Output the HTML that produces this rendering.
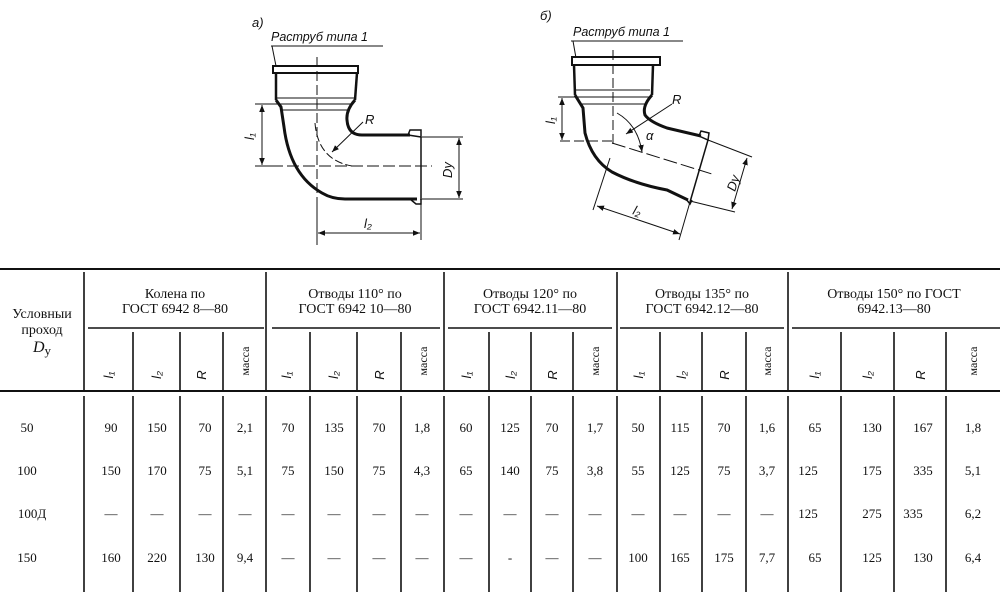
<!DOCTYPE html>
<html><head><meta charset="utf-8"><style>
html,body{margin:0;padding:0;background:#fff;}
svg{display:block;}
.t{font-family:"Liberation Serif",serif;font-size:13px;fill:#111;}
.h{font-family:"Liberation Serif",serif;font-size:14px;fill:#111;}
.i{font-family:"Liberation Sans",sans-serif;font-style:italic;font-size:13px;fill:#111;}
</style></head><body>
<svg width="1000" height="596" viewBox="0 0 1000 596" xmlns="http://www.w3.org/2000/svg">
<defs><marker id="a" viewBox="0 0 10 10" refX="10" refY="5" markerWidth="7" markerHeight="7" orient="auto-start-reverse"><path d="M0,1 L10,5 L0,9 z" fill="#111"/></marker></defs>
<g fill="none" stroke="#111" stroke-width="1">
<!-- ===== Drawing a ===== -->
<text class="i" x="252" y="27" stroke="none">а)</text>
<text class="i" x="271" y="41" stroke="none" style="font-size:12.5px">Раструб типа 1</text>
<line x1="271" y1="46" x2="383" y2="46"/>
<line x1="272" y1="46" x2="276" y2="66"/>
<path d="M273,66 L358,66 L358,73 L273,73 Z" stroke-width="2"/>
<line x1="276" y1="73" x2="276" y2="100" stroke-width="2.5"/>
<line x1="357" y1="73" x2="355" y2="100" stroke-width="2.5"/>
<line x1="277" y1="98" x2="354" y2="98"/>
<line x1="279" y1="104" x2="352" y2="104"/>
<line x1="281" y1="110" x2="348" y2="110"/>
<path d="M276,100 L281,107 L284,127 Q290,175 322,193 Q332,199 345,199 L417,199" stroke-width="3"/>
<path d="M355,100 Q346,110 347,120 Q348,135 362,135 L410,135" stroke-width="3"/>
<path d="M408,135 L410,130 L421,130 L421,137 Z M410,199 L416,204 L421,204 L421,199" stroke-width="1.5"/>
<line x1="421" y1="137" x2="421" y2="200" stroke-width="1.5"/>
<line x1="317" y1="57" x2="317" y2="245" stroke-dasharray="10,4"/>
<line x1="255" y1="166" x2="432" y2="166" stroke-dasharray="12,4"/>
<path d="M315,123 Q318,160 352,166" stroke-dasharray="8,3"/>
<line x1="363" y1="122" x2="332" y2="152" marker-end="url(#a)"/>
<text class="i" x="365" y="124" stroke="none">R</text>
<line x1="255" y1="104" x2="282" y2="104"/>
<line x1="255" y1="166" x2="282" y2="166"/>
<line x1="262" y1="105" x2="262" y2="165" marker-start="url(#a)" marker-end="url(#a)"/>
<text class="i" transform="translate(254,140) rotate(-90)" stroke="none">l₁</text>
<line x1="422" y1="137" x2="463" y2="137"/>
<line x1="422" y1="199" x2="463" y2="199"/>
<line x1="459" y1="138" x2="459" y2="198" marker-start="url(#a)" marker-end="url(#a)"/>
<text class="i" transform="translate(452,178) rotate(-90)" stroke="none">Dy</text>
<line x1="421" y1="200" x2="421" y2="240"/>
<line x1="317" y1="200" x2="317" y2="240"/>
<line x1="318" y1="233" x2="420" y2="233" marker-start="url(#a)" marker-end="url(#a)"/>
<text class="i" x="364" y="228" stroke="none">l₂</text>

<!-- ===== Drawing б ===== -->
<text class="i" x="540" y="20" stroke="none">б)</text>
<text class="i" x="573" y="36" stroke="none" style="font-size:12.5px">Раструб типа 1</text>
<line x1="571" y1="41" x2="683" y2="41"/>
<line x1="573" y1="41" x2="576" y2="58"/>
<path d="M572,57 L660,57 L660,65 L572,65 Z" stroke-width="2"/>
<line x1="574" y1="65" x2="575" y2="95" stroke-width="2.5"/>
<line x1="653" y1="65" x2="652" y2="95" stroke-width="2.5"/>
<line x1="576" y1="90" x2="650" y2="90"/>
<line x1="578" y1="97" x2="649" y2="97"/>
<line x1="581" y1="104" x2="646" y2="104"/>
<path d="M575,95 L583,108 L585,133 Q592,160 612,172 Q635,184 667,190 L688,200" stroke-width="3"/>
<path d="M652,95 Q642,106 645,115 Q650,122 667,128 L701,136" stroke-width="3"/>
<path d="M699,136 L701,131 L709,133 L708,140 Z M686,199 L690,204 L692,200" stroke-width="1.5"/>
<line x1="708" y1="140" x2="690" y2="202" stroke-width="1.5"/>
<line x1="613" y1="50" x2="613" y2="145" stroke-dasharray="10,4"/>
<line x1="560" y1="141" x2="613" y2="141" stroke-dasharray="10,4"/>
<line x1="612" y1="143" x2="712" y2="174" stroke-dasharray="14,4"/>
<path d="M617,113 Q638,125 642,152" marker-end="url(#a)"/>
<line x1="672" y1="104" x2="626" y2="134" marker-end="url(#a)"/>
<text class="i" x="672" y="104" stroke="none">R</text>
<text class="i" x="646" y="140" stroke="none">α</text>
<line x1="558" y1="97" x2="580" y2="97"/>
<line x1="562" y1="98" x2="562" y2="140" marker-start="url(#a)" marker-end="url(#a)"/>
<text class="i" transform="translate(555,124) rotate(-90)" stroke="none">l₁</text>
<line x1="708" y1="140" x2="752" y2="157"/>
<line x1="690" y1="201" x2="735" y2="212"/>
<line x1="747" y1="158" x2="732" y2="209" marker-start="url(#a)" marker-end="url(#a)"/>
<text class="i" transform="translate(735,192) rotate(-72)" stroke="none">Dy</text>
<line x1="610" y1="158" x2="593" y2="210"/>
<line x1="690" y1="202" x2="679" y2="240"/>
<line x1="597" y1="206" x2="680" y2="234" marker-start="url(#a)" marker-end="url(#a)"/>
<text class="i" transform="translate(632,214) rotate(18)" stroke="none">l₂</text>
</g>

<!-- ===== Table ===== -->
<g stroke="#111" fill="none">
<line x1="0" y1="269" x2="1000" y2="269" stroke-width="2"/>
<line x1="0" y1="391" x2="1000" y2="391" stroke-width="2"/>
<line x1="88" y1="328" x2="264" y2="328" stroke-width="1.5"/>
<line x1="272" y1="328" x2="440" y2="328" stroke-width="1.5"/>
<line x1="448" y1="328" x2="612" y2="328" stroke-width="1.5"/>
<line x1="620" y1="328" x2="784" y2="328" stroke-width="1.5"/>
<line x1="792" y1="328" x2="1000" y2="328" stroke-width="1.5"/>
<g stroke-width="1.6">
<line x1="84" y1="272" x2="84" y2="390"/><line x1="266" y1="272" x2="266" y2="390"/>
<line x1="444" y1="272" x2="444" y2="390"/><line x1="617" y1="272" x2="617" y2="390"/>
<line x1="788" y1="272" x2="788" y2="390"/>
<line x1="133" y1="332" x2="133" y2="390"/><line x1="180" y1="332" x2="180" y2="390"/><line x1="223" y1="332" x2="223" y2="390"/>
<line x1="310" y1="332" x2="310" y2="390"/><line x1="357" y1="332" x2="357" y2="390"/><line x1="401" y1="332" x2="401" y2="390"/>
<line x1="489" y1="332" x2="489" y2="390"/><line x1="531" y1="332" x2="531" y2="390"/><line x1="573" y1="332" x2="573" y2="390"/>
<line x1="660" y1="332" x2="660" y2="390"/><line x1="702" y1="332" x2="702" y2="390"/><line x1="746" y1="332" x2="746" y2="390"/>
<line x1="841" y1="332" x2="841" y2="390"/><line x1="894" y1="332" x2="894" y2="390"/><line x1="946" y1="332" x2="946" y2="390"/>
<!-- body -->
<line x1="84" y1="396" x2="84" y2="592"/><line x1="133" y1="396" x2="133" y2="592"/><line x1="180" y1="396" x2="180" y2="592"/><line x1="223" y1="396" x2="223" y2="592"/>
<line x1="266" y1="396" x2="266" y2="592"/><line x1="310" y1="396" x2="310" y2="592"/><line x1="357" y1="396" x2="357" y2="592"/><line x1="401" y1="396" x2="401" y2="592"/>
<line x1="444" y1="396" x2="444" y2="592"/><line x1="489" y1="396" x2="489" y2="592"/><line x1="531" y1="396" x2="531" y2="592"/><line x1="573" y1="396" x2="573" y2="592"/>
<line x1="617" y1="396" x2="617" y2="592"/><line x1="660" y1="396" x2="660" y2="592"/><line x1="702" y1="396" x2="702" y2="592"/><line x1="746" y1="396" x2="746" y2="592"/>
<line x1="788" y1="396" x2="788" y2="592"/><line x1="841" y1="396" x2="841" y2="592"/><line x1="894" y1="396" x2="894" y2="592"/><line x1="946" y1="396" x2="946" y2="592"/>
</g>
</g>
<g class="h" text-anchor="middle">
<text x="42" y="318">Условныи</text>
<text x="42" y="334">проход</text>
<text x="42" y="352" style="font-style:italic;font-size:16px">D<tspan style="font-style:normal;font-size:13px" dy="3">у</tspan></text>
<text x="175" y="298">Колена по</text><text x="175" y="313">ГОСТ 6942 8—80</text>
<text x="355" y="298">Отводы 110° по</text><text x="355" y="313">ГОСТ 6942 10—80</text>
<text x="530" y="298">Отводы 120° по</text><text x="530" y="313">ГОСТ 6942.11—80</text>
<text x="702" y="298">Отводы 135° по</text><text x="702" y="313">ГОСТ 6942.12—80</text>
<text x="894" y="298">Отводы 150° по ГОСТ</text><text x="894" y="313">6942.13—80</text>
</g>
<g class="i" text-anchor="middle">
<text transform="translate(113,375) rotate(-90)">l₁</text><text transform="translate(161,375) rotate(-90)">l₂</text><text transform="translate(206,375) rotate(-90)">R</text>
<text transform="translate(291,375) rotate(-90)">l₁</text><text transform="translate(338,375) rotate(-90)">l₂</text><text transform="translate(384,375) rotate(-90)">R</text>
<text transform="translate(471,375) rotate(-90)">l₁</text><text transform="translate(515,375) rotate(-90)">l₂</text><text transform="translate(557,375) rotate(-90)">R</text>
<text transform="translate(643,375) rotate(-90)">l₁</text><text transform="translate(686,375) rotate(-90)">l₂</text><text transform="translate(729,375) rotate(-90)">R</text>
<text transform="translate(819,375) rotate(-90)">l₁</text><text transform="translate(872,375) rotate(-90)">l₂</text><text transform="translate(925,375) rotate(-90)">R</text>
</g>
<g class="t" text-anchor="middle" style="font-size:12px">
<text transform="translate(249,361) rotate(-90)">масса</text><text transform="translate(427,361) rotate(-90)">масса</text>
<text transform="translate(599,361) rotate(-90)">масса</text><text transform="translate(771,361) rotate(-90)">масса</text>
<text transform="translate(977,361) rotate(-90)">масса</text>
</g>
<g class="t" text-anchor="middle">
<text x="27" y="432">50</text><text x="27" y="475">100</text><text x="32" y="518">100Д</text><text x="27" y="562">150</text>
</g>
<g class="t" text-anchor="middle">
<text x="111" y="432">90</text><text x="157" y="432">150</text><text x="205" y="432">70</text><text x="245" y="432">2,1</text><text x="288" y="432">70</text><text x="334" y="432">135</text><text x="379" y="432">70</text><text x="422" y="432">1,8</text><text x="466" y="432">60</text><text x="510" y="432">125</text><text x="552" y="432">70</text><text x="595" y="432">1,7</text><text x="638" y="432">50</text><text x="680" y="432">115</text><text x="724" y="432">70</text><text x="767" y="432">1,6</text><text x="815" y="432">65</text><text x="872" y="432">130</text><text x="923" y="432">167</text><text x="973" y="432">1,8</text>
<text x="111" y="475">150</text><text x="157" y="475">170</text><text x="205" y="475">75</text><text x="245" y="475">5,1</text><text x="288" y="475">75</text><text x="334" y="475">150</text><text x="379" y="475">75</text><text x="422" y="475">4,3</text><text x="466" y="475">65</text><text x="510" y="475">140</text><text x="552" y="475">75</text><text x="595" y="475">3,8</text><text x="638" y="475">55</text><text x="680" y="475">125</text><text x="724" y="475">75</text><text x="767" y="475">3,7</text><text x="808" y="475">125</text><text x="872" y="475">175</text><text x="923" y="475">335</text><text x="973" y="475">5,1</text>
<text x="111" y="518">—</text><text x="157" y="518">—</text><text x="205" y="518">—</text><text x="245" y="518">—</text><text x="288" y="518">—</text><text x="334" y="518">—</text><text x="379" y="518">—</text><text x="422" y="518">—</text><text x="466" y="518">—</text><text x="510" y="518">—</text><text x="552" y="518">—</text><text x="595" y="518">—</text><text x="638" y="518">—</text><text x="680" y="518">—</text><text x="724" y="518">—</text><text x="767" y="518">—</text><text x="808" y="518">125</text><text x="872" y="518">275</text><text x="913" y="518">335</text><text x="973" y="518">6,2</text>
<text x="111" y="562">160</text><text x="157" y="562">220</text><text x="205" y="562">130</text><text x="245" y="562">9,4</text><text x="288" y="562">—</text><text x="334" y="562">—</text><text x="379" y="562">—</text><text x="422" y="562">—</text><text x="466" y="562">—</text><text x="510" y="562">-</text><text x="552" y="562">—</text><text x="595" y="562">—</text><text x="638" y="562">100</text><text x="680" y="562">165</text><text x="724" y="562">175</text><text x="767" y="562">7,7</text><text x="815" y="562">65</text><text x="872" y="562">125</text><text x="923" y="562">130</text><text x="973" y="562">6,4</text>
</g>
</svg>
</body></html>
